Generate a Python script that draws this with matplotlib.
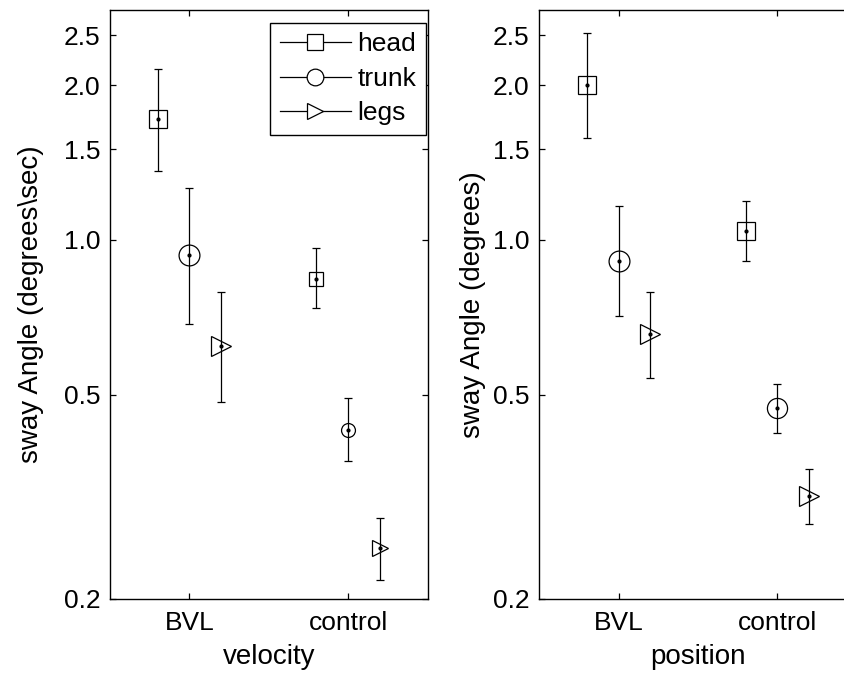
import matplotlib
matplotlib.use("Agg")
from matplotlib import pyplot as plt
from matplotlib.lines import Line2D
from matplotlib.ticker import FormatStrFormatter, NullLocator
import numpy as np

plt.rcParams['font.family'] = ['Liberation Sans', 'DejaVu Sans']

groups = ['BVL', 'control']
parts = ['head', 'trunk', 'legs']

# velocity panel: means and error bar ends
vel_head = [1.72, 0.84]
vel_head_hi = [2.15, 0.964]
vel_head_lo = [1.36, 0.737]
vel_trunk = [0.933, 0.427]
vel_trunk_hi = [1.26, 0.492]
vel_trunk_lo = [0.686, 0.371]
vel_legs = [0.622, 0.251]
vel_legs_hi = [0.793, 0.287]
vel_legs_lo = [0.484, 0.218]

# position panel
pos_head = [2.0, 1.04]
pos_head_hi = [2.53, 1.19]
pos_head_lo = [1.575, 0.911]
pos_trunk = [0.911, 0.471]
pos_trunk_hi = [1.165, 0.525]
pos_trunk_lo = [0.712, 0.421]
pos_legs = [0.655, 0.317]
pos_legs_hi = [0.793, 0.358]
pos_legs_lo = [0.539, 0.28]

yticks = [0.2, 0.5, 1.0, 1.5, 2.0, 2.5]

markers = {'head': 's', 'trunk': 'o', 'legs': '>'}
offsets = {'head': -0.2, 'trunk': 0.0, 'legs': 0.2}
vel_ms = {'head': [12.7, 10], 'trunk': [15, 10], 'legs': [14.5, 11]}
pos_ms = {'head': [12.3, 12.5], 'trunk': [15, 14.5], 'legs': [14.5, 14]}

fig = plt.figure(figsize=(8.45, 6.73), dpi=100)
ax1 = fig.add_axes([0.130, 0.110, 0.376, 0.875])
ax2 = fig.add_axes([0.638, 0.110, 0.376, 0.875])

panels = [
    (ax1, 'velocity', 'sway Angle (degrees\\sec)',
     {'head': (vel_head, vel_head_lo, vel_head_hi),
      'trunk': (vel_trunk, vel_trunk_lo, vel_trunk_hi),
      'legs': (vel_legs, vel_legs_lo, vel_legs_hi)}, vel_ms, 14),
    (ax2, 'position', 'sway Angle (degrees)',
     {'head': (pos_head, pos_head_lo, pos_head_hi),
      'trunk': (pos_trunk, pos_trunk_lo, pos_trunk_hi),
      'legs': (pos_legs, pos_legs_lo, pos_legs_hi)}, pos_ms, 5),
]

lw = 0.9
for ax, xlab, ylab, data, sizes, ypad in panels:
    xbase = np.arange(1, len(groups) + 1)
    for p in parts:
        m, lo, hi = [np.array(a) for a in data[p]]
        x = xbase + offsets[p]
        ax.errorbar(x, m, yerr=[m - lo, hi - m], fmt='none', ecolor='k',
                    elinewidth=lw, capsize=3, capthick=lw)
        for xi, yi, s in zip(x, m, sizes[p]):
            ax.plot(xi, yi, marker=markers[p], ms=s, mfc='none', mec='k',
                    mew=lw, ls='none')
        ax.plot(x, m, '.', color='k', ms=4)
    ax.set_yscale('log')
    ax.set_ylim(0.2, 2.8)
    ax.set_xlim(0.5, 2.5)
    ax.set_yticks(yticks)
    ax.yaxis.set_major_formatter(FormatStrFormatter('%.1f'))
    ax.yaxis.set_minor_locator(NullLocator())
    ax.set_xticks(xbase)
    ax.set_xticklabels(groups)
    ax.tick_params(direction='in', top=True, right=True, length=4,
                   width=lw, labelsize=19, pad=7)
    ax.tick_params(axis='x', pad=9)
    for sp in ax.spines.values():
        sp.set_linewidth(1.0)
    ax.set_xlabel(xlab, fontsize=20, labelpad=6)
    ax.set_ylabel(ylab, fontsize=20, labelpad=ypad)

handles = [Line2D([], [], color='k', lw=lw, marker=markers[p], ms=12,
                  mfc='white', mec='k', mew=lw) for p in parts]
leg = ax1.legend(handles, parts, loc='upper right',
                 bbox_to_anchor=(0.994, 0.978), borderaxespad=0,
                 fontsize=19, handlelength=2.7, handletextpad=0.25,
                 labelspacing=0.4, fancybox=False, framealpha=1,
                 edgecolor='k', borderpad=0.35)
leg.get_frame().set_linewidth(1.0)

fig.savefig('out.png', dpi=100)
